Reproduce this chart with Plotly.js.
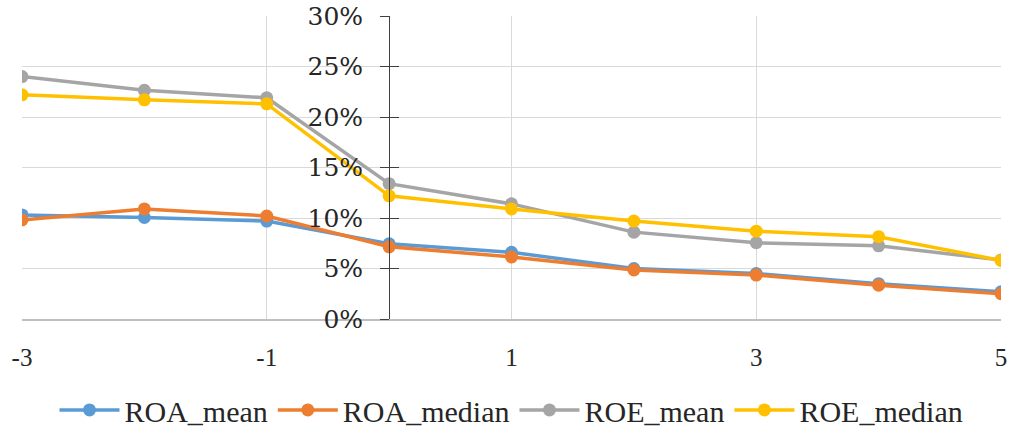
<!DOCTYPE html>
<html>
<head>
<meta charset="utf-8">
<script src="https://cdn.plot.ly/plotly-3.0.1.min.js"></script>
<style>html,body{margin:0;padding:0;background:#fff;}#chart{width:1013px;height:432px;}</style>
</head>
<body>
<div id="chart"></div>
<script>
const years = [-3, -2, -1, 0, 1, 2, 3, 4, 5];
const xTickVals = [-3, -1, 1, 3, 5];
const xTickText = ["-3", "-1", "1", "3", "5"];
const yTickVals = [0, 0.05, 0.10, 0.15, 0.20, 0.25, 0.30];
const yTickText = ["0%", "5%", "10%", "15%", "20%", "25%", "30%"];
const ROA_mean   = [0.103, 0.1005, 0.097, 0.0745, 0.066, 0.050, 0.045, 0.035, 0.027];
const ROA_median = [0.098, 0.109, 0.102, 0.0715, 0.0615, 0.0485, 0.0435, 0.0335, 0.025];
const ROE_mean   = [0.240, 0.2265, 0.219, 0.134, 0.114, 0.086, 0.0755, 0.0725, 0.0585];
const ROE_median = [0.222, 0.217, 0.213, 0.122, 0.109, 0.097, 0.087, 0.0815, 0.058];
const seriesNames = ["ROA_mean", "ROA_median", "ROE_mean", "ROE_median"];
const seriesColors = ["#5B9BD5", "#ED7D31", "#A5A5A5", "#FFC000"];
const seriesData = [ROA_mean, ROA_median, ROE_mean, ROE_median];

const SERIF = "Liberation Serif";
const YSERIF = "DejaVu Serif";
const TEXT = '#262626';

const traces = seriesData.map((d, i) => ({
  x: years, y: d, name: seriesNames[i], type: 'scatter', mode: 'lines+markers',
  line: {color: seriesColors[i], width: 3.5},
  marker: {color: seriesColors[i], size: 13}
}));
traces.push({x: [0], y: [0], yaxis: 'y2', xaxis: 'x', mode: 'markers', marker: {opacity: 0}, showlegend: false, hoverinfo: 'skip'});

const layout = {
  width: 1013, height: 432,
  margin: {l: 22, r: 12, t: 16, b: 113, autoexpand: false},
  paper_bgcolor: '#fff', plot_bgcolor: '#fff',
  showlegend: true,
  xaxis: {
    range: [-3, 5], tickmode: 'array', tickvals: xTickVals, ticktext: xTickText, zeroline: false,
    showgrid: true, gridcolor: '#d9d9d9', gridwidth: 1,
    showline: true, linecolor: '#bfbfbf', linewidth: 1.5,
    ticks: '', ticklabelstandoff: 15, automargin: false,
    tickfont: {family: SERIF, size: 25, color: TEXT}
  },
  yaxis: {
    range: [0, 0.3], tickmode: 'array', tickvals: yTickVals, ticktext: yTickText, zeroline: false,
    showgrid: true, gridcolor: '#d9d9d9', gridwidth: 1,
    anchor: 'free', position: 0.375, side: 'left',
    showline: true, linecolor: '#404040', linewidth: 1,
    ticks: 'outside', ticklen: 9, tickcolor: '#404040', tickwidth: 1,
    ticklabelstandoff: 12, automargin: false,
    tickfont: {family: YSERIF, size: 25, color: TEXT}
  },
  yaxis2: {
    range: [0, 0.3], tickmode: 'array', tickvals: yTickVals, overlaying: 'y', anchor: 'free', position: 0.375, side: 'left',
    showgrid: false, zeroline: false, showline: false, showticklabels: false, automargin: false,
    ticks: 'inside', ticklen: 9, tickcolor: '#404040', tickwidth: 1
  },
  legend: {
    orientation: 'h', x: 0.5, xanchor: 'center', y: -0.30, yanchor: 'middle',
    font: {family: SERIF, size: 30, color: TEXT},
    itemwidth: 60
  }
};
Plotly.newPlot('chart', traces, layout, {displayModeBar: false, staticPlot: true});
</script>
</body>
</html>
